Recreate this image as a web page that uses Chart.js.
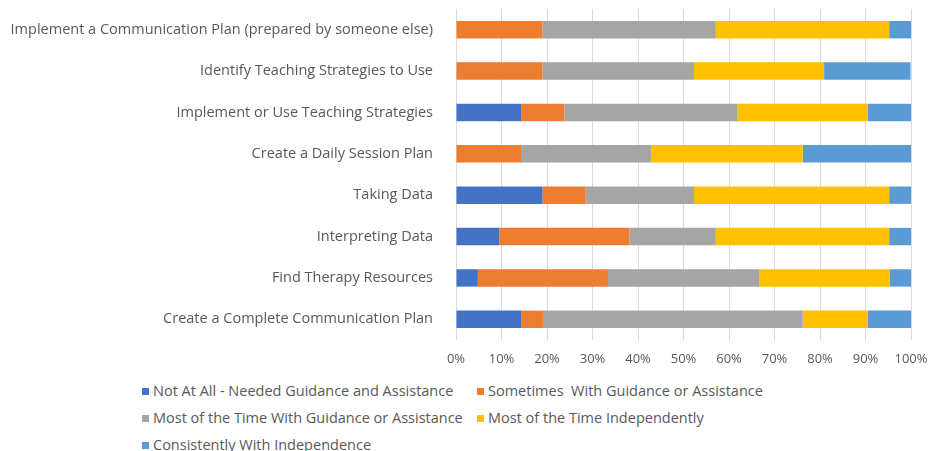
<!DOCTYPE html>
<html>
<head>
<meta charset="utf-8">
<script src="https://cdn.jsdelivr.net/npm/chart.js@4.4.1/dist/chart.umd.min.js"></script>
<style>
  body { margin: 0; background: #fff; font-family: "Open Sans", sans-serif; }
  #wrap { position: relative; width: 931px; height: 372px; }
  #legend {
    position: absolute; left: 142px; top: 381px;
    display: grid; grid-template-columns: 335px auto; row-gap: 7px;
    font-size: 14.5px; color: #595959; line-height: 20px;
  }
  #legend .item { display: flex; align-items: center; white-space: pre; }
  #legend .sw { width: 7px; height: 7px; margin-right: 4px; }
</style>
</head>
<body>
<div id="wrap"><canvas id="chart"></canvas></div>
<div id="legend"></div>
<script>
const categories = [
  "Implement a Communication Plan (prepared by someone else)",
  "Identify Teaching Strategies to Use",
  "Implement or Use Teaching Strategies",
  "Create a Daily Session Plan",
  "Taking Data",
  "Interpreting Data",
  "Find Therapy Resources",
  "Create a Complete Communication Plan"
];

const notAtAll     = [0,    0,    14.3, 0,    19.0, 9.5,  4.8,  14.3];
const sometimes    = [19.0, 19.0, 9.5,  14.3, 9.5,  28.6, 28.6, 4.8];
const mostGuidance = [38.1, 33.3, 38.1, 28.6, 23.8, 19.0, 33.3, 57.1];
const mostIndep    = [38.1, 28.6, 28.6, 33.3, 42.9, 38.1, 28.6, 14.3];
const consistently = [4.8,  19.0, 9.5,  23.8, 4.8,  4.8,  4.8,  9.5];

const xTicks = [0, 10, 20, 30, 40, 50, 60, 70, 80, 90, 100];

const seriesNames = [
  "Not At All - Needed Guidance and Assistance",
  "Sometimes  With Guidance or Assistance",
  "Most of the Time With Guidance or Assistance",
  "Most of the Time Independently",
  "Consistently With Independence"
];
const seriesData = [notAtAll, sometimes, mostGuidance, mostIndep, consistently];
const colors = ["#4472C4", "#ED7D31", "#A5A5A5", "#FFC000", "#5B9BD5"];

const textColor = "#595959";

const chart = new Chart(document.getElementById('chart'), {
  type: 'bar',
  data: {
    labels: categories,
    datasets: seriesNames.map((name, i) => ({
      label: name,
      data: seriesData[i],
      backgroundColor: colors[i],
      borderWidth: 0,
      barPercentage: 0.42,
      categoryPercentage: 1.0
    }))
  },
  options: {
    indexAxis: 'y',
    responsive: true,
    maintainAspectRatio: false,
    animation: false,
    layout: { padding: { top: 9, right: 20, left: 0, bottom: 0 } },
    scales: {
      x: {
        stacked: true,
        min: 0,
        max: 100,
        afterBuildTicks: s => { s.ticks = xTicks.map(v => ({ value: v })); },
        afterFit: s => { s.height = 32; s.paddingLeft = 0; s.paddingRight = 0; },
        border: { display: false },
        grid: { color: "#D9D9D9", drawTicks: false },
        ticks: { color: textColor, font: { family: "'Open Sans', sans-serif", size: 13 }, padding: 11, callback: v => v + "%" }
      },
      y: {
        stacked: true,
        afterFit: s => { s.width = 456; s.paddingTop = 0; s.paddingBottom = 0; },
        border: { display: false },
        grid: { display: false },
        ticks: { color: textColor, font: { family: "'Open Sans', sans-serif", size: 14.5 }, padding: 15 }
      }
    },
    plugins: {
      legend: { display: false },
      tooltip: { enabled: false }
    }
  }
});

// legend built from the datasets
const legend = document.getElementById('legend');
chart.data.datasets.forEach(ds => {
  const item = document.createElement('div');
  item.className = 'item';
  item.innerHTML = '<span class="sw" style="background:' + ds.backgroundColor + '"></span>' + ds.label;
  legend.appendChild(item);
});
</script>
</body>
</html>
